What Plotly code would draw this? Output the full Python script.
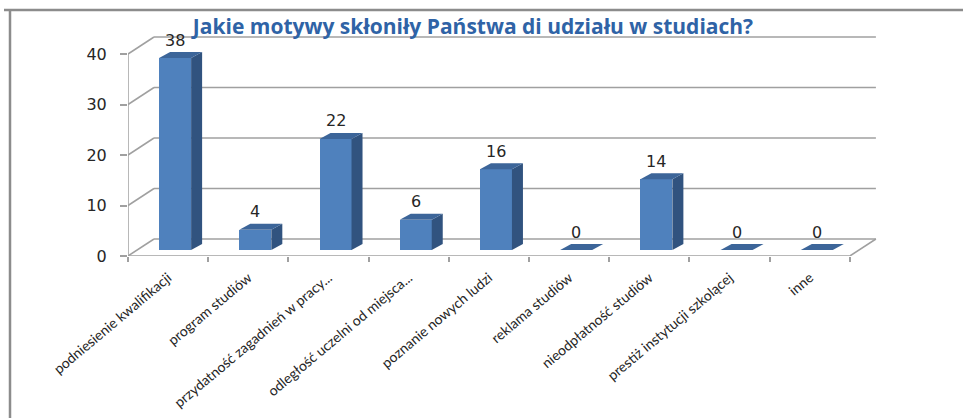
import plotly.graph_objects as go

# ---- data ----
categories = [
    "podniesienie kwalifikacji",
    "program studiów",
    "przydatność zagadnień w pracy...",
    "odległość uczelni od miejsca...",
    "poznanie nowych ludzi",
    "reklama studiów",
    "nieodpłatność studiów",
    "prestiż instytucji szkolącej",
    "inne",
]
values = [38, 4, 22, 6, 16, 0, 14, 0, 0]
y_ticks = [0, 10, 20, 30, 40]
title_text = "Jakie motywy skłoniły Państwa di udziału w studiach?"

# ---- geometry (pixel based styling) ----
W, H = 963, 418
L_PX, R_PX = 128, 886          # plot area x in pixels
T_PX, B_PX = 30, 256           # plot area y in pixels
X0, X1 = -0.5, 8.95
PX_PER_X = (R_PX - L_PX) / (X1 - X0)
PX_PER_Y = 5.05
Y1 = (B_PX - T_PX) / PX_PER_Y

def dx(px):
    return px / PX_PER_X

def dy(px):
    return px / PX_PER_Y

BAR_W = dx(32)
BAR_OFF_X, BAR_OFF_Y = dx(7), dy(6)       # bar plane offset from front plane
DEPTH_X, DEPTH_Y = dx(11), dy(6)          # bar depth
BACK_X, BACK_Y = dx(26), dy(17)           # back wall offset

FRONT = "#4F81BD"
SIDE = "#31537F"
TOP = "#3C6599"
GRID = "#A0A0A0"
TXT = "#262626"

n = len(categories)
xs = list(range(n))

fig = go.Figure()

# front faces
fig.add_trace(go.Bar(
    x=[i + BAR_OFF_X for i in xs], y=values, base=BAR_OFF_Y, width=BAR_W,
    marker=dict(color=FRONT, line=dict(width=0)), hoverinfo="skip",
))

# side and top faces from the values
for i, v in zip(xs, values):
    xl = i + BAR_OFF_X - BAR_W / 2
    xr = i + BAR_OFF_X + BAR_W / 2
    b = BAR_OFF_Y
    t = BAR_OFF_Y + v
    if v > 0:
        fig.add_trace(go.Scatter(
            x=[xr, xr + DEPTH_X, xr + DEPTH_X, xr, xr],
            y=[b, b + DEPTH_Y, t + DEPTH_Y, t, b],
            mode="lines", fill="toself", fillcolor=SIDE,
            line=dict(width=0, color=SIDE), hoverinfo="skip",
        ))
    fig.add_trace(go.Scatter(
        x=[xl, xr, xr + DEPTH_X, xl + DEPTH_X, xl],
        y=[t, t, t + DEPTH_Y, t + DEPTH_Y, t],
        mode="lines", fill="toself", fillcolor=TOP,
        line=dict(width=0, color=TOP), hoverinfo="skip",
    ))

shapes = []
line_style = dict(color=GRID, width=1.5)
# back wall gridlines + left wall diagonals
for v in y_ticks:
    shapes.append(dict(type="line", xref="x", yref="y",
                       x0=X0 + BACK_X, x1=n - 0.5 + BACK_X,
                       y0=v + BACK_Y, y1=v + BACK_Y, line=line_style, layer="below"))
    shapes.append(dict(type="line", xref="x", yref="y",
                       x0=X0, x1=X0 + BACK_X, y0=v, y1=v + BACK_Y,
                       line=line_style, layer="below"))
# front vertical axis
shapes.append(dict(type="line", xref="x", yref="y", x0=X0, x1=X0,
                   y0=0, y1=y_ticks[-1], line=line_style, layer="below"))
# front floor edge
shapes.append(dict(type="line", xref="x", yref="y", x0=X0, x1=n - 0.5,
                   y0=0, y1=0, line=line_style, layer="below"))
# right floor edge
shapes.append(dict(type="line", xref="x", yref="y", x0=n - 0.5, x1=n - 0.5 + BACK_X,
                   y0=0, y1=BACK_Y, line=line_style, layer="below"))

# chart frame (paper coords computed from pixels)
def px_to_paper_x(px):
    return (px - L_PX) / (R_PX - L_PX)

def px_to_paper_y(py):
    return (B_PX - py) / (B_PX - T_PX)

frame = dict(color="#8C8C8C", width=2.5)
shapes.append(dict(type="line", xref="paper", yref="paper",
                   x0=px_to_paper_x(10), x1=px_to_paper_x(10),
                   y0=px_to_paper_y(10), y1=px_to_paper_y(420), line=frame))
shapes.append(dict(type="line", xref="paper", yref="paper",
                   x0=px_to_paper_x(4), x1=px_to_paper_x(965),
                   y0=px_to_paper_y(10), y1=px_to_paper_y(10), line=frame))

# data labels
annotations = []
for i, v in zip(xs, values):
    annotations.append(dict(
        x=i + BAR_OFF_X, y=v + dy(24), xref="x", yref="y",
        text=str(v), showarrow=False, xanchor="center", yanchor="middle",
        font=dict(family="DejaVu Sans", size=16, color=TXT),
    ))

fig.update_layout(
    width=W, height=H,
    margin=dict(l=L_PX, r=W - R_PX, t=T_PX, b=H - B_PX, pad=0, autoexpand=False),
    paper_bgcolor="white", plot_bgcolor="white",
    showlegend=False, hovermode=False,
    shapes=shapes, annotations=annotations,
    title=dict(text=f"<b>{title_text}</b>", x=473 / W, y=1 - 27 / H,
               xanchor="center", yanchor="middle", xref="container", yref="container",
               automargin=False,
               font=dict(family="Open Sans", size=21, color="#2F63A6")),
    xaxis=dict(range=[X0, X1], tickmode="array", tickvals=xs, ticktext=categories,
               tickangle=-40, ticks="", showgrid=False, zeroline=False, showline=False,
               ticklabelstandoff=10, automargin=False, fixedrange=True,
               tickfont=dict(family="Lato", size=14, color=TXT),
               minor=dict(tickmode="array", tickvals=[i - 0.5 for i in range(n + 1)],
                          ticks="outside", ticklen=5, tickwidth=1.5, tickcolor=GRID,
                          showgrid=False)),
    yaxis=dict(range=[0, Y1], tickmode="array", tickvals=y_ticks,
               ticks="outside", ticklen=7, tickwidth=1.5, tickcolor=GRID,
               ticklabelstandoff=10, automargin=False, fixedrange=True,
               showgrid=False, zeroline=False, showline=False,
               tickfont=dict(family="DejaVu Sans", size=16, color=TXT)),
    bargap=0,
)

fig.write_html("out.html", config={"displayModeBar": False},
               post_script="document.body.style.margin='0px';")
